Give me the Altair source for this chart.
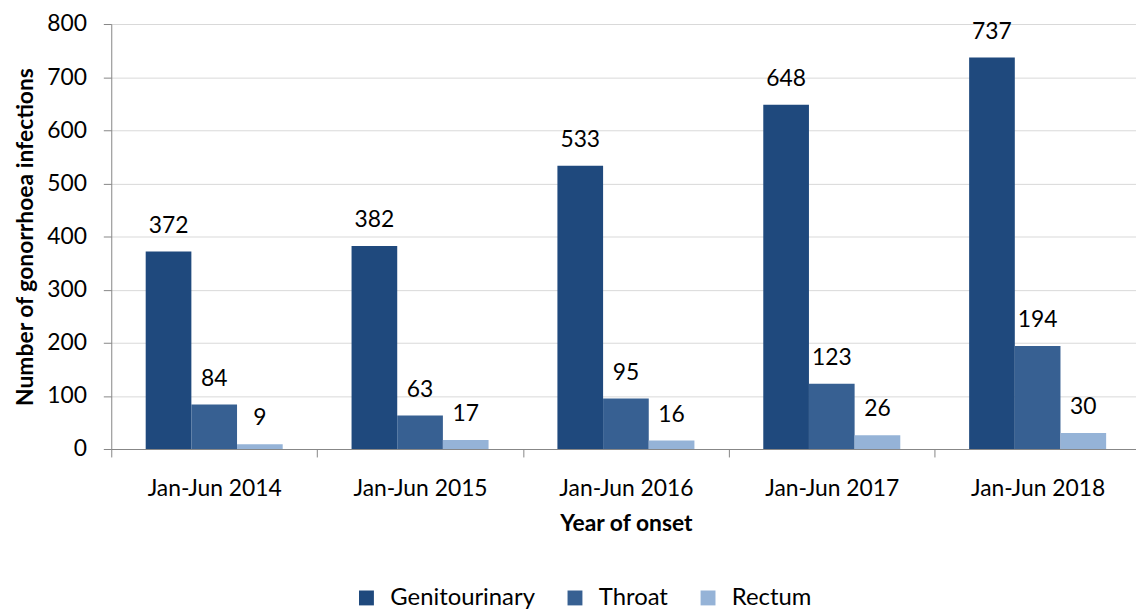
import altair as alt
import pandas as pd

years = ["Jan-Jun 2014", "Jan-Jun 2015", "Jan-Jun 2016", "Jan-Jun 2017", "Jan-Jun 2018"]
sites = ["Genitourinary", "Throat", "Rectum"]
genitourinary = [372, 382, 533, 648, 737]
throat = [84, 63, 95, 123, 194]
rectum = [9, 17, 16, 26, 30]
colors = ["#1F497D", "#376092", "#95B3D7"]
y_ticks = [0, 100, 200, 300, 400, 500, 600, 700, 800]

rows = []
for i, yr in enumerate(years):
    for s, vals in zip(sites, [genitourinary, throat, rectum]):
        rows.append({"year": yr, "site": s, "value": vals[i]})
df = pd.DataFrame(rows)

FONT = "Lato"
AX = "#868686"

x_enc = alt.X(
    "year:N", sort=years, title="Year of onset",
    scale=alt.Scale(paddingInner=0, paddingOuter=0, range=[0, 1036.6]),
    axis=alt.Axis(labelAngle=0, tickBand="extent", domainColor=AX, tickColor=AX,
                  tickSize=8, labelFontSize=23, labelColor="black", labelFont=FONT,
                  labelPadding=21, titleFont=FONT, titleFontSize=23, titleFontWeight="bold",
                  titleColor="black", titlePadding=12, grid=False),
)
xo_enc = alt.XOffset("site:N", sort=sites, scale=alt.Scale(paddingInner=0, paddingOuter=0.754))
y_enc = alt.Y(
    "value:Q", title="Number of gonorrhoea infections",
    scale=alt.Scale(domain=[0, 800], nice=False),
    axis=alt.Axis(values=y_ticks, grid=True, gridColor="#D9D9D9", domainColor=AX, tickColor=AX,
                  tickSize=8, labelFontSize=23, labelColor="black", labelFont=FONT,
                  labelPadding=17, titleFont=FONT, titleFontSize=23, titleFontWeight="bold",
                  titleColor="black", titlePadding=9),
)

bars = alt.Chart(df).mark_bar(size=46).encode(
    x=x_enc, xOffset=xo_enc, y=y_enc,
    color=alt.Color("site:N", sort=sites, scale=alt.Scale(domain=sites, range=colors),
                    legend=alt.Legend(title=None, orient="none", direction="horizontal",
                                      legendX=245, legendY=566, symbolType="square",
                                      symbolSize=225, symbolStrokeWidth=0, labelFont=FONT,
                                      labelFontSize=24, labelColor="black", labelOffset=12,
                                      columnPadding=28)),
)

labels = alt.Chart(df).mark_text(font=FONT, fontSize=23, color="black", baseline="alphabetic",
                                 dy=-19).encode(
    x=alt.X("year:N", sort=years), xOffset=alt.XOffset("site:N", sort=sites),
    y="value:Q", text="value:Q",
)

chart = alt.layer(bars, labels).properties(
    width=1018, height=428,
    autosize=alt.AutoSizeParams(type="none"),
    padding={"left": 104, "top": 14, "right": 14, "bottom": 160},
).configure_view(stroke=None)

chart.save("out.html", embed_options={"renderer": "svg", "actions": False})
